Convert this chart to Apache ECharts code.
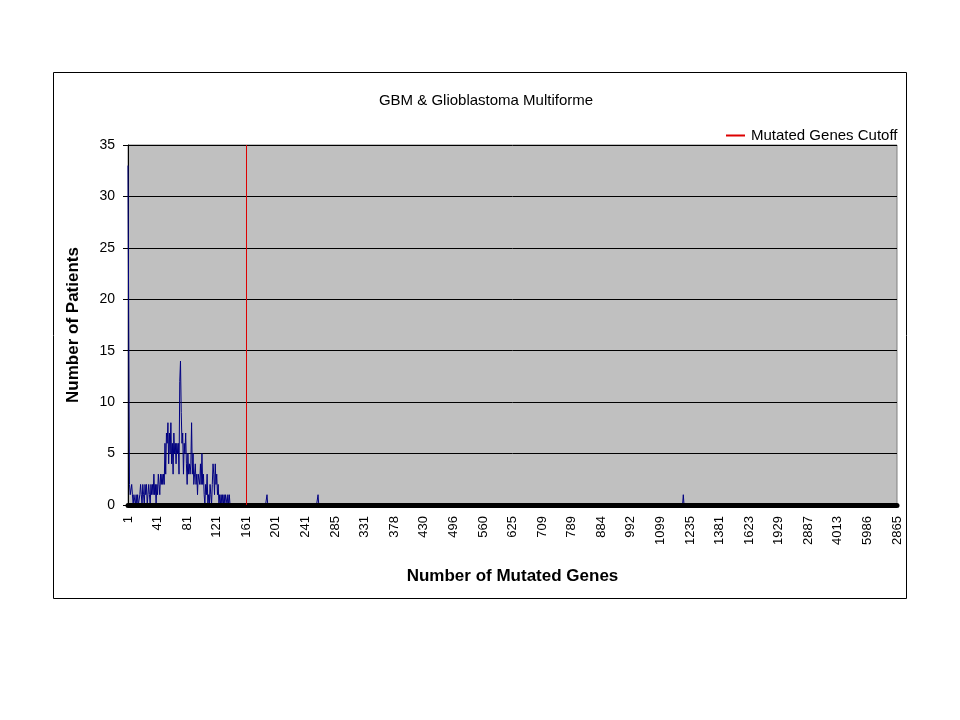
<!DOCTYPE html>
<html>
<head>
<meta charset="utf-8">
<script src="https://cdn.jsdelivr.net/npm/echarts@6/dist/echarts.min.js"></script>
<style>html,body{margin:0;padding:0;background:#fff}#c{width:960px;height:720px}</style>
</head>
<body>
<div id="c"></div>
<script>
// Tick labels shown on the category axis (every 40th category)
var tickLabels = ['1','41','81','121','161','201','241','285','331','378','430','496','560','625','709','789','884','992','1099','1235','1381','1623','1929','2887','4013','5986','2865'];
var labelStep = 40;
var categoryCount = 1041;
// Patients per category for the first categories
var headValues = [33,17,2,1,1,2,1,0,1,1,0,1,0,1,0,0,1,2,1,0,
  2,1,0,2,1,2,0,1,2,1,0,2,1,2,1,3,1,2,0,2,
  1,3,2,1,3,2,3,2,3,2,6,3,7,6,8,4,7,5,8,4,
  6,3,7,5,6,4,6,5,6,3,12,14,9,6,7,3,6,5,7,4,
  2,5,3,4,3,4,8,3,5,2,3,4,2,3,1,3,3,2,4,2,
  5,2,3,1,0,2,1,3,0,1,0,2,1,0,2,4,3,1,4,2,
  3,1,2,0,1,0,1,0,1,0,1,0,1,1,0,1,0,1,0];
// Isolated later categories with patients: [category index, patients]
var laterSpikes = [[188,1],[257,1],[751,1]];
var cutoffCategory = '161';
var titleText = 'GBM & Glioblastoma Multiforme';
var cutoffName = 'Mutated Genes Cutoff';

var categories = [];
for (var i = 0; i < categoryCount; i++) {
  categories.push(i % labelStep === 0 ? tickLabels[i / labelStep] : '#' + i);
}
var values = [];
for (var i = 0; i < categoryCount; i++) values.push(i < headValues.length ? headValues[i] : 0);
laterSpikes.forEach(function (s) { values[s[0]] = s[1]; });
var cutoffIndex = tickLabels.indexOf(cutoffCategory) * labelStep;

var font = 'Liberation Sans, Arial, sans-serif';
var red = '#DD0000';
var chart = echarts.init(document.getElementById('c'), null, {renderer: 'canvas'});
chart.setOption({
  animation: false,
  backgroundColor: '#ffffff',
  title: {
    text: titleText, left: 481, top: 88, textAlign: 'center',
    textStyle: {fontFamily: font, fontSize: 15, fontWeight: 'normal', color: '#000'}
  },
  legend: {
    left: 721, top: 123,
    data: [{name: cutoffName, icon: 'rect'}],
    itemWidth: 19, itemHeight: 2, itemGap: 5,
    itemStyle: {color: red, borderWidth: 0, opacity: 1},
    lineStyle: {color: red, width: 1},
    textStyle: {fontFamily: font, fontSize: 15, color: '#000', padding: [0,0,0,1]}
  },
  graphic: [{
    type: 'rect', shape: {x: 53.5, y: 72.5, width: 853, height: 526},
    style: {fill: 'none', stroke: '#000', lineWidth: 1}, z: -1
  }],
  grid: {
    left: 128, top: 145, right: 63, bottom: 215,
    show: true, backgroundColor: '#C0C0C0', borderColor: '#808080', borderWidth: 1
  },
  xAxis: {
    type: 'category', data: categories, boundaryGap: false, z: 3,
    name: 'Number of Mutated Genes', nameLocation: 'middle', nameGap: 63,
    nameTextStyle: {fontFamily: font, fontSize: 17, fontWeight: 'bold', color: '#000'},
    axisLine: {show: true, lineStyle: {color: '#000', width: 5}},
    axisTick: {show: false},
    axisLabel: {interval: labelStep - 1, rotate: 90, margin: 11, fontFamily: font, fontSize: 13, color: '#000'},
    splitLine: {show: false}
  },
  yAxis: {
    type: 'value', min: 0, max: 35, interval: 5,
    name: 'Number of Patients', nameLocation: 'middle', nameGap: 46, nameRotate: 90,
    nameTextStyle: {fontFamily: font, fontSize: 17, fontWeight: 'bold', color: '#000'},
    axisLine: {show: true, lineStyle: {color: '#000', width: 1}},
    axisTick: {show: true, length: 5, lineStyle: {color: '#000'}},
    axisLabel: {margin: 13, fontFamily: font, fontSize: 14, color: '#000'},
    splitLine: {show: true, lineStyle: {color: '#000', width: 1}}
  },
  series: [{
    name: 'Patients', type: 'line', data: values, symbol: 'none',
    lineStyle: {color: '#000080', width: 1}, itemStyle: {color: '#000080'}, z: 2
  }, {
    name: cutoffName, type: 'line', data: [], symbol: 'none', color: red,
    lineStyle: {color: red, width: 1}, itemStyle: {color: red},
    markLine: {
      silent: true, symbol: 'none', label: {show: false},
      lineStyle: {color: red, width: 1, type: 'solid'},
      data: [{xAxis: cutoffIndex}]
    }, z: 4
  }]
});
</script>
</body>
</html>
